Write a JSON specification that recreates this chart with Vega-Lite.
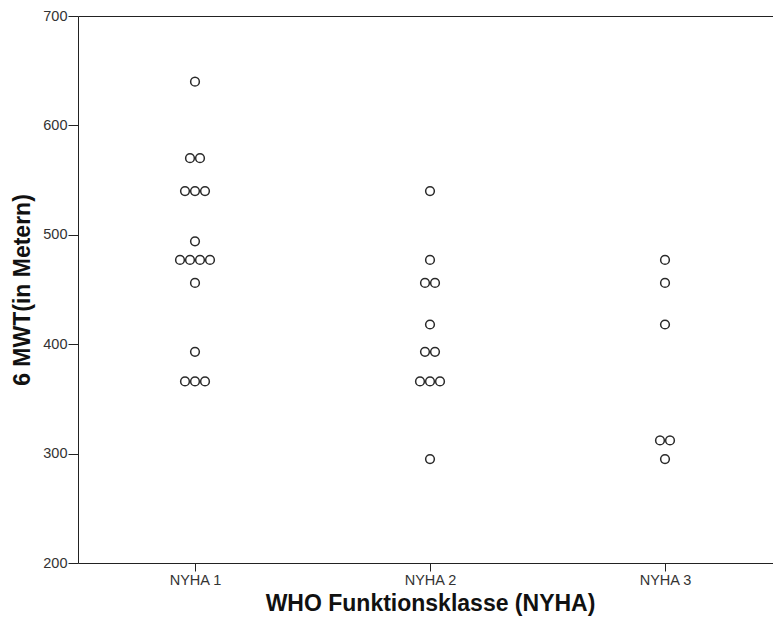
{
  "$schema": "https://vega.github.io/schema/vega-lite/v6.json",
  "width": 695,
  "height": 547,
  "autosize": {"type": "none"},
  "padding": {"left": 78, "top": 16, "right": 0, "bottom": 62},
  "background": "white",
  "config": {
    "view": {"stroke": "#222", "strokeWidth": 1},
    "font": "Liberation Sans",
    "axis": {
      "grid": false,
      "domainColor": "#222",
      "tickColor": "#222",
      "labelColor": "#333",
      "labelFont": "Liberation Sans",
      "labelFontSize": 14.5,
      "titleFont": "Liberation Sans",
      "titleFontSize": 23,
      "titleFontWeight": "bold",
      "titleColor": "#111"
    }
  },
  "data": {
    "values": [
      {"klasse": "NYHA 1", "mwt": 640},
      {"klasse": "NYHA 1", "mwt": 570},
      {"klasse": "NYHA 1", "mwt": 570},
      {"klasse": "NYHA 1", "mwt": 540},
      {"klasse": "NYHA 1", "mwt": 540},
      {"klasse": "NYHA 1", "mwt": 540},
      {"klasse": "NYHA 1", "mwt": 494},
      {"klasse": "NYHA 1", "mwt": 477},
      {"klasse": "NYHA 1", "mwt": 477},
      {"klasse": "NYHA 1", "mwt": 477},
      {"klasse": "NYHA 1", "mwt": 477},
      {"klasse": "NYHA 1", "mwt": 456},
      {"klasse": "NYHA 1", "mwt": 393},
      {"klasse": "NYHA 1", "mwt": 366},
      {"klasse": "NYHA 1", "mwt": 366},
      {"klasse": "NYHA 1", "mwt": 366},
      {"klasse": "NYHA 2", "mwt": 540},
      {"klasse": "NYHA 2", "mwt": 477},
      {"klasse": "NYHA 2", "mwt": 456},
      {"klasse": "NYHA 2", "mwt": 456},
      {"klasse": "NYHA 2", "mwt": 418},
      {"klasse": "NYHA 2", "mwt": 393},
      {"klasse": "NYHA 2", "mwt": 393},
      {"klasse": "NYHA 2", "mwt": 366},
      {"klasse": "NYHA 2", "mwt": 366},
      {"klasse": "NYHA 2", "mwt": 366},
      {"klasse": "NYHA 2", "mwt": 295},
      {"klasse": "NYHA 3", "mwt": 477},
      {"klasse": "NYHA 3", "mwt": 456},
      {"klasse": "NYHA 3", "mwt": 418},
      {"klasse": "NYHA 3", "mwt": 312},
      {"klasse": "NYHA 3", "mwt": 312},
      {"klasse": "NYHA 3", "mwt": 295}
    ]
  },
  "transform": [
    {"window": [{"op": "row_number", "as": "rang"}], "groupby": ["klasse", "mwt"]},
    {"joinaggregate": [{"op": "count", "as": "anzahl"}], "groupby": ["klasse", "mwt"]},
    {"calculate": "datum.rang - (datum.anzahl + 1) / 2", "as": "stapel"}
  ],
  "mark": {"type": "point", "shape": "circle", "filled": false, "size": 76, "stroke": "#2a2a2a", "strokeWidth": 1.5, "opacity": 1},
  "encoding": {
    "x": {
      "field": "klasse",
      "type": "nominal",
      "scale": {"type": "point", "range": [117, 587], "padding": 0},
      "axis": {"title": "WHO Funktionsklasse (NYHA)", "labelAngle": 0, "tickSize": 8, "labelPadding": 2, "titlePadding": 6, "domain": false}
    },
    "xOffset": {
      "field": "stapel",
      "type": "quantitative",
      "scale": {"domain": [-2, 2], "range": [-20, 20]}
    },
    "y": {
      "field": "mwt",
      "type": "quantitative",
      "scale": {"domain": [200, 700], "nice": false, "zero": false},
      "axis": {"title": "6 MWT(in Metern)", "values": [200, 300, 400, 500, 600, 700], "tickSize": 10, "labelPadding": 1, "titlePadding": 8, "domain": false}
    }
  }
}
